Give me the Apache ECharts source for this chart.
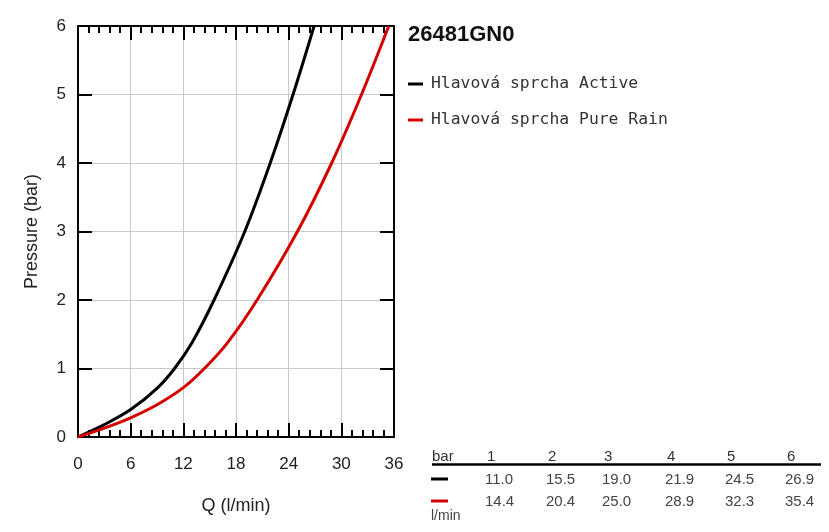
<!DOCTYPE html>
<html>
<head>
<meta charset="utf-8">
<script src="https://cdn.jsdelivr.net/npm/echarts@6/dist/echarts.min.js"></script>
<style>
  html, body { margin: 0; padding: 0; background: #fff; }
  #main { width: 829px; height: 532px; }
</style>
</head>
<body>
<div id="main"></div>
<script>
// data (points between the table values estimated from the curves)
var barLevels = [1, 2, 3, 4, 5, 6];
var activeQ = [0, 3, 6, 9, 11.0, 13, 15.5, 19.0, 21.9, 24.5, 26.9];
var activeP = [0, 0.18, 0.40, 0.71, 1, 1.38, 2, 3, 4, 5, 6];
var pureQ = [0, 3, 6, 9, 12, 14.4, 17, 20.4, 25.0, 28.9, 32.3, 35.4];
var pureP = [0, 0.13, 0.28, 0.47, 0.72, 1, 1.37, 2, 3, 4, 5, 6];
var xTicks = [0, 6, 12, 18, 24, 30, 36];
var yTicks = [0, 1, 2, 3, 4, 5, 6];
// flow at each bar level (table rows)
var activeTable = [11.0, 15.5, 19.0, 21.9, 24.5, 26.9];
var pureTable = [14.4, 20.4, 25.0, 28.9, 32.3, 35.4];

var myChart = echarts.init(document.getElementById('main'));

function pairs(qs, ps) {
  return qs.map(function (q, i) { return [q, ps[i]]; });
}

var font = 'Liberation Sans, Arial, sans-serif';
var colX = [485, 546, 602, 665, 725, 785];

// table under the legend
var table = [];
table.push({ type: 'text', left: 432, top: 449, style: { text: 'bar', font: '15px ' + font, fill: '#333' } });
barLevels.forEach(function (b, i) {
  table.push({ type: 'text', left: colX[i] + 2, top: 449, style: { text: String(b), font: '15px ' + font, fill: '#333' } });
  table.push({ type: 'text', left: colX[i], top: 472, style: { text: activeTable[i].toFixed(1), font: '15px ' + font, fill: '#444' } });
  table.push({ type: 'text', left: colX[i], top: 494, style: { text: pureTable[i].toFixed(1), font: '15px ' + font, fill: '#444' } });
});
table.push({ type: 'line', shape: { x1: 432, y1: 464.5, x2: 821, y2: 464.5 }, style: { stroke: '#000', lineWidth: 2.5 } });
table.push({ type: 'line', shape: { x1: 431, y1: 479, x2: 448, y2: 479 }, style: { stroke: '#000', lineWidth: 3 } });
table.push({ type: 'line', shape: { x1: 431, y1: 501, x2: 448, y2: 501 }, style: { stroke: '#d40000', lineWidth: 3 } });
table.push({ type: 'text', left: 431, top: 509, style: { text: 'l/min', font: '14px ' + font, fill: '#444' } });

var axisCommon = {
  type: 'value',
  axisLine: { show: true, onZero: false, lineStyle: { color: '#000', width: 2 } },
  axisTick: { show: true, inside: true, length: 14, lineStyle: { color: '#000', width: 2 } },
  splitLine: { show: false }
};

var option = {
  animation: false,
  title: {
    text: '26481GN0',
    left: 403,
    top: 19,
    textStyle: { fontFamily: font, fontSize: 22, fontWeight: 'bold', color: '#111' }
  },
  legend: {
    orient: 'vertical',
    left: 403,
    top: 71,
    itemGap: 20,
    itemWidth: 15,
    itemHeight: 3,
    icon: 'rect',
    textStyle: { fontFamily: 'DejaVu Sans Mono, monospace', fontSize: 16.4, color: '#333', padding: [0, 0, 0, 3] },
    data: ['Hlavová sprcha Active', 'Hlavová sprcha Pure Rain']
  },
  grid: { left: 78, right: 435, top: 26, bottom: 95 },
  xAxis: [
    Object.assign({}, axisCommon, {
      position: 'bottom',
      min: xTicks[0], max: xTicks[xTicks.length - 1], interval: 6,
      name: 'Q (l/min)', nameLocation: 'middle', nameGap: 60,
      nameTextStyle: { fontFamily: font, fontSize: 18, color: '#222' },
      minorTick: { show: true, splitNumber: 5, length: 7, lineStyle: { color: '#000', width: 2 } },
      axisLabel: { fontFamily: font, fontSize: 17, color: '#222', margin: 19 },
      splitLine: { show: true, lineStyle: { color: '#c8c8c8', width: 1 } }
    }),
    Object.assign({}, axisCommon, {
      position: 'top',
      min: xTicks[0], max: xTicks[xTicks.length - 1], interval: 6,
      minorTick: { show: true, splitNumber: 5, length: 7, lineStyle: { color: '#000', width: 2 } },
      axisLabel: { show: false }
    })
  ],
  yAxis: [
    Object.assign({}, axisCommon, {
      position: 'left',
      min: yTicks[0], max: yTicks[yTicks.length - 1], interval: 1,
      name: 'Pressure (bar)', nameLocation: 'middle', nameGap: 37,
      nameTextStyle: { fontFamily: font, fontSize: 18, color: '#222' },
      axisLabel: { fontFamily: font, fontSize: 17, color: '#222', margin: 12 },
      splitLine: { show: true, lineStyle: { color: '#c8c8c8', width: 1 } }
    }),
    Object.assign({}, axisCommon, {
      position: 'right',
      min: yTicks[0], max: yTicks[yTicks.length - 1], interval: 1,
      axisLabel: { show: false }
    })
  ],
  series: [
    {
      name: 'Hlavová sprcha Active',
      type: 'line',
      smooth: 0.33,
      showSymbol: false,
      color: '#000',
      lineStyle: { width: 3, color: '#000' },
      data: pairs(activeQ, activeP)
    },
    {
      name: 'Hlavová sprcha Pure Rain',
      type: 'line',
      smooth: 0.33,
      showSymbol: false,
      color: '#d40000',
      lineStyle: { width: 3, color: '#d40000' },
      data: pairs(pureQ, pureP)
    }
  ],
  graphic: table
};

myChart.setOption(option);
</script>
</body>
</html>
